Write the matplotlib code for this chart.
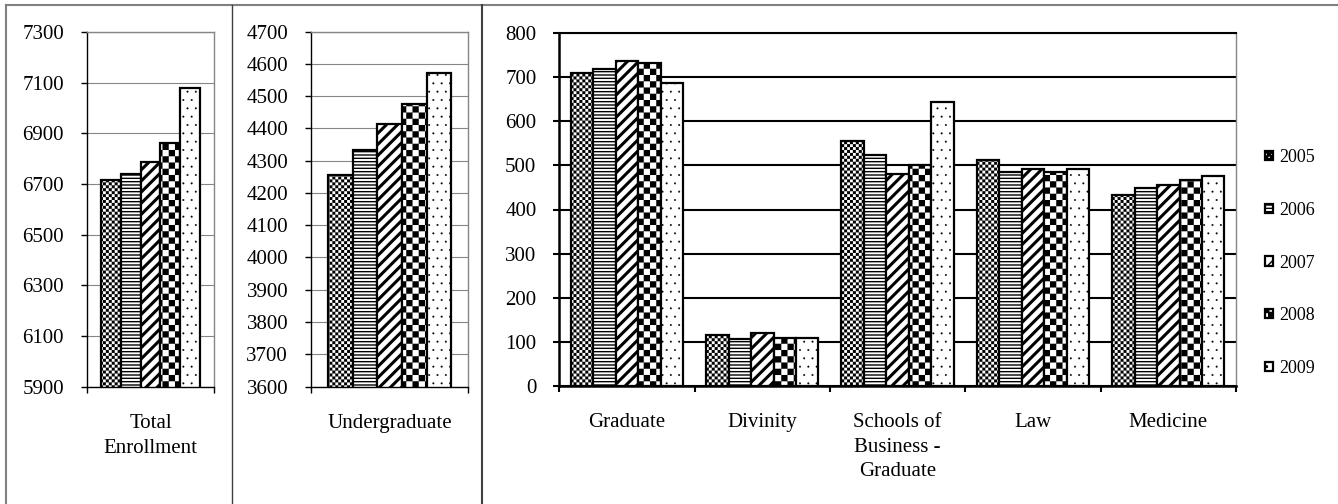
import warnings
import numpy as np
import matplotlib
matplotlib.use('Agg')
import matplotlib.pyplot as plt
import matplotlib.hatch as mhatch
from matplotlib.path import Path
from matplotlib.lines import Line2D

warnings.filterwarnings('ignore')

# data
years = ['2005', '2006', '2007', '2008', '2009']
total_enrollment = [6716, 6738, 6788, 6862, 7079]
undergraduate = [4256, 4333, 4413, 4476, 4571]
schools = ['Graduate', 'Divinity', 'Schools of\nBusiness -\nGraduate', 'Law', 'Medicine']
y2005 = [711, 114, 556, 513, 432]
y2006 = [720, 105, 523, 484, 448]
y2007 = [737, 120, 480, 492, 456]
y2008 = [733, 108, 501, 486, 467]
y2009 = [687, 109, 644, 492, 477]
school_values = [y2005, y2006, y2007, y2008, y2009]


# checkerboard hatch: 'k' coarse, 'q' fine
class CheckerHatch(mhatch.HatchPatternBase):
    def __init__(self, hatch, density):
        self.cells = 16 * hatch.count('k') + 34 * hatch.count('q')
        self.num_vertices = (self.cells ** 2 // 2) * 5
        self.filled = True

    def set_vertices_and_codes(self, vertices, codes):
        n = self.cells
        s = 1.0 / n
        k = 0
        for i in range(n):
            for j in range(n):
                if (i + j) % 2 == 0:
                    x, y = i * s, j * s
                    vertices[k:k + 5] = [(x, y), (x + s, y), (x + s, y + s), (x, y + s), (x, y)]
                    codes[k:k + 5] = [Path.MOVETO, Path.LINETO, Path.LINETO,
                                      Path.LINETO, Path.CLOSEPOLY]
                    k += 5


mhatch._hatch_types.append(CheckerHatch)

hatches = ['q', '-----', '///', 'k', '..']
hatch_lw = [0.05, 1.0, 2.2, 0.05, 0.2]

plt.rcParams['font.family'] = ['Liberation Serif', 'DejaVu Serif']
plt.rcParams['font.size'] = 15

W, H = 1338, 504
fig = plt.figure(figsize=(W / 100, H / 100), dpi=100)


def px_axes(left, top, right, bottom):
    return fig.add_axes([left / W, 1 - bottom / H, (right - left) / W, (bottom - top) / H])


def style_bars(bars, i):
    for p in bars:
        if hasattr(p, 'set_hatch_linewidth'):
            p.set_hatch_linewidth(hatch_lw[i])


def setup_axes(ax, ncat, labels, light):
    grid_c = '#868686' if light else 'black'
    grid_w = 0.8 if light else 1.5
    ax.set_xlim(-0.5, ncat - 0.5)
    ax.set_xticks(range(ncat))
    ax.set_xticklabels(labels, linespacing=1.38)
    ax.set_xticks(np.arange(ncat + 1) - 0.5, minor=True)
    ax.tick_params(axis='x', which='major', length=0, pad=20)
    ax.tick_params(axis='x', which='minor', length=4.5, width=1.5 if not light else 1.0,
                   direction='out', color='black')
    ax.tick_params(axis='y', which='major', length=4.5, width=1.5 if not light else 1.0,
                   direction='out', pad=12, color='black')
    ax.yaxis.grid(True, color=grid_c, linewidth=grid_w)
    ax.set_axisbelow(True)
    ax.spines['top'].set_color(grid_c if not light else '#868686')
    ax.spines['top'].set_linewidth(grid_w if not light else 1.0)
    ax.spines['right'].set_color('#868686')
    ax.spines['right'].set_linewidth(1.0)
    ax.spines['left'].set_color('black')
    ax.spines['left'].set_linewidth(1.0 if light else 1.8)
    ax.spines['bottom'].set_color('black')
    ax.spines['bottom'].set_linewidth(1.0 if light else 1.8)


# panel 1: total enrollment
ax1 = px_axes(87, 32, 214, 386.5)
w1 = 0.157
for i, yr in enumerate(years):
    b = ax1.bar([(i - 2) * w1], [total_enrollment[i]], width=w1, bottom=0,
                color='white', edgecolor='black', linewidth=1.6, hatch=hatches[i])
    style_bars(b, i)
ax1.set_ylim(5900, 7300)
ax1.set_yticks(np.arange(5900, 7301, 200))
setup_axes(ax1, 1, ['Total\nEnrollment'], True)

# panel 2: undergraduate
ax2 = px_axes(311, 31.7, 468.3, 386.5)
for i, yr in enumerate(years):
    b = ax2.bar([(i - 2) * w1], [undergraduate[i]], width=w1,
                color='white', edgecolor='black', linewidth=1.6, hatch=hatches[i])
    style_bars(b, i)
ax2.set_ylim(3600, 4700)
ax2.set_yticks(np.arange(3600, 4701, 100))
setup_axes(ax2, 1, ['Undergraduate'], True)

# panel 3: schools
ax3 = px_axes(559.3, 33.3, 1236, 385.7)
w3 = 0.166
x = np.arange(len(schools))
handles = []
for i, yr in enumerate(years):
    b = ax3.bar(x + (i - 2) * w3, school_values[i], width=w3,
                color='white', edgecolor='black', linewidth=1.6, hatch=hatches[i], label=yr)
    style_bars(b, i)
    handles.append(b)
ax3.set_ylim(0, 800)
ax3.set_yticks(np.arange(0, 801, 100))
setup_axes(ax3, len(schools), schools, False)

leg = fig.legend(handles=handles, labels=years, loc='center left',
                 bbox_to_anchor=(1265 / W, 1 - 263 / H), frameon=False,
                 fontsize=13, handlelength=0.42, handleheight=0.42,
                 handletextpad=0.35, labelspacing=1.98, borderpad=0, borderaxespad=0)

# chart borders
fig.add_artist(Line2D([6 / W, 6 / W], [0, 1 - 5 / H], color='#808080', linewidth=1.5))
fig.add_artist(Line2D([6 / W, 1], [1 - 5 / H, 1 - 5 / H], color='#808080', linewidth=1.5))
fig.add_artist(Line2D([231.5 / W, 231.5 / W], [0, 1 - 5 / H], color='#404040', linewidth=1.0))
fig.add_artist(Line2D([481.5 / W, 481.5 / W], [0, 1 - 5 / H], color='#404040', linewidth=1.5))

fig.savefig('out.png', dpi=100)
